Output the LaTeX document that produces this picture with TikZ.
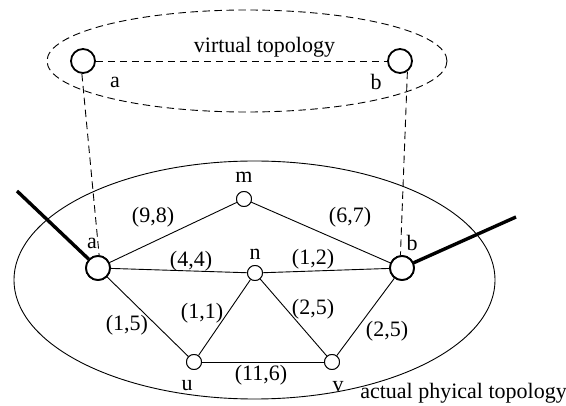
\documentclass[tikz,border=0pt]{standalone}
\usepackage{fontspec}
\setmainfont{Liberation Serif}
\begin{document}
\begin{tikzpicture}[x=1pt,y=-1pt,
  font=\fontsize{22}{26}\selectfont,
  thin line/.style={line width=0.9pt},
  dash line/.style={line width=0.9pt,dash pattern=on 7.5pt off 4.5pt},
  bignode/.style={circle,draw,line width=1.8pt,fill=white,minimum size=24pt,inner sep=0pt},
  smallnode/.style={circle,draw,line width=0.9pt,fill=white,minimum size=15pt,inner sep=0pt},
  thickline/.style={line width=3.4pt},
  lbl/.style={inner sep=0pt}]
\useasboundingbox (0,0) rectangle (566,406);
% ellipses
\draw[dash line] (247,61) ellipse [x radius=200, y radius=51];
\draw[thin line] (254.5,280) ellipse [x radius=240.5, y radius=119];
% virtual topology
\node[bignode] (va) at (83,61) {};
\node[bignode] (vb) at (400,61) {};
\draw[dash line] (va) -- (vb);
\node[lbl] (vat) at (264.5,47) {virtual topology};
\node[lbl] (val) at (115,82) {a};
\node[lbl] (vbl) at (376,82) {b};
% physical nodes
\coordinate (ea) at (17,191);
\coordinate (eb) at (516,217);
\node[bignode] (a) at (98,268) {};
\node[bignode] (b) at (402,268) {};
\node[smallnode] (m) at (244,199) {};
\node[smallnode] (n) at (255,273) {};
\node[smallnode] (u) at (194,362) {};
\node[smallnode] (v) at (332,362) {};
% vertical dashed
\draw[dash line] (va.-95) -- (a.85);
\draw[dash line] (vb.-55) -- (b.97);
% thick
\draw[thickline] (a) -- (ea);
\draw[thickline] (b) -- (eb);
% edges
\draw[thin line] (a) -- (m);
\draw[thin line] (m) -- (b);
\draw[thin line] (a) -- (n);
\draw[thin line] (n) -- (b);
\draw[thin line] (a) -- (u);
\draw[thin line] (u) -- (n);
\draw[thin line] (n) -- (v);
\draw[thin line] (v) -- (b);
\draw[thin line] (u) -- (v);
% redraw nodes on top
\node[bignode] at (a) {};
\node[bignode] at (b) {};
\node[smallnode] at (m) {};
\node[smallnode] at (n) {};
\node[smallnode] at (u) {};
\node[smallnode] at (v) {};
% labels
\node[lbl] (la) at (92,243) {a};
\node[lbl] (lb) at (412,243) {b};
\node[lbl] (lm) at (244,177) {m};
\node[lbl] (ln) at (255,254) {n};
\node[lbl] (lu) at (187,386) {u};
\node[lbl] (lv) at (338,387) {v};
\node[lbl] (w1) at (153,217) {(9,8)};
\node[lbl] (w2) at (350,217) {(6,7)};
\node[lbl] (w3) at (191,261) {(4,4)};
\node[lbl] (w4) at (313,259) {(1,2)};
\node[lbl] (w5) at (127,325) {(1,5)};
\node[lbl] (w6) at (202,313) {(1,1)};
\node[lbl] (w7) at (313,309) {(2,5)};
\node[lbl] (w8) at (387,331) {(2,5)};
\node[lbl] (w9) at (261,375) {(11,6)};
\node[lbl] (apt) at (463.5,393) {actual phyical topology};
\end{tikzpicture}
\end{document}
